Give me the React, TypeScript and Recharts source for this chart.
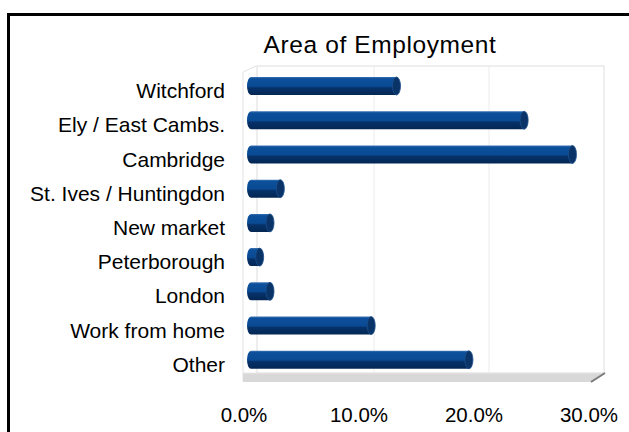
import { Bar, BarChart, Customized, XAxis, YAxis } from "recharts";

const categories = [
  "Witchford",
  "Ely / East Cambs.",
  "Cambridge",
  "St. Ives / Huntingdon",
  "New market",
  "Peterborough",
  "London",
  "Work from home",
  "Other",
];
const shares = [13.0, 24.1, 28.3, 2.9, 2.0, 1.1, 2.0, 10.8, 19.3];
const xTicks = [0, 10, 20, 30];

const FONT = '"Liberation Sans", Arial, sans-serif';

// chart frame (plot area is left 246..591, top 74..382)
const W = 629;
const H = 432;
const PLOT_LEFT = 246;
const PLOT_RIGHT = 591;
const DEPTH_X = 13;
const DEPTH_Y = 8;
const FLOOR_Y = 381;

const data = categories.map((name, i) => ({ name, value: shares[i] }));

function Wall() {
  const px = (v: number) => PLOT_LEFT + ((PLOT_RIGHT - PLOT_LEFT) * v) / 30;
  const backTop = 66;
  const backBottom = FLOOR_Y - DEPTH_Y;
  return (
    <g>
      <defs>
        <linearGradient id="cyl" x1="0" y1="0" x2="0" y2="1">
          <stop offset="0%" stopColor="#3d72b3" />
          <stop offset="10%" stopColor="#0c4f9b" />
          <stop offset="52%" stopColor="#0a4a93" />
          <stop offset="60%" stopColor="#06326a" />
          <stop offset="100%" stopColor="#042753" />
        </linearGradient>
      </defs>
      <text x={380} y={53} textAnchor="middle" fontFamily={FONT} fontSize={24.5} letterSpacing={0.6} fill="#000">
        Area of Employment
      </text>
      {/* side + back wall */}
      <polyline
        points={`${PLOT_LEFT - 3},${FLOOR_Y} ${PLOT_LEFT - 3},${backTop + 6} ${PLOT_LEFT - 3 + DEPTH_X},${backTop}`}
        fill="none"
        stroke="#e2e2e2"
      />
      <rect
        x={PLOT_LEFT + DEPTH_X - 2}
        y={backTop}
        width={PLOT_RIGHT - PLOT_LEFT + 2}
        height={backBottom - backTop}
        fill="#fff"
        stroke="#dedede"
      />
      {xTicks.slice(1, -1).map((t) => (
        <line key={t} x1={px(t) + DEPTH_X} x2={px(t) + DEPTH_X} y1={backTop} y2={backBottom} stroke="#ececec" />
      ))}
      {/* floor */}
      <polygon
        points={`${PLOT_LEFT - 3},${backBottom} ${PLOT_RIGHT + DEPTH_X + 1},${backBottom} ${PLOT_RIGHT},${FLOOR_Y + 1} ${PLOT_LEFT - 3},${FLOOR_Y + 1}`}
        fill="#d8d8d8"
      />
      <line x1={PLOT_LEFT - 3} x2={PLOT_RIGHT + DEPTH_X} y1={backBottom} y2={backBottom} stroke="#e8e8e8" />
      <line x1={PLOT_RIGHT} y1={FLOOR_Y + 1} x2={PLOT_RIGHT + DEPTH_X + 1} y2={backBottom} stroke="#7a7a7a" strokeWidth={2} />
    </g>
  );
}

function Cylinder(props: any) {
  const { x, y, width, height } = props;
  if (width == null || width <= 0) return null;
  const top = y - 5;
  const x0 = x + 1;
  const rx = 4;
  const ry = height / 2;
  const cy = top + ry;
  return (
    <g>
      <path
        d={`M${x0 + rx},${top} L${x0 + width},${top} L${x0 + width},${top + height} L${x0 + rx},${top + height} A${rx},${ry} 0 0 1 ${x0 + rx},${top} Z`}
        fill="url(#cyl)"
      />
      <ellipse cx={x0 + width} cy={cy} rx={rx} ry={ry} fill="#0a3468" stroke="#1d4f8c" strokeWidth={0.8} />
    </g>
  );
}

function YTick({ x, y, payload }: any) {
  return (
    <text x={x - 21} y={y + 7} textAnchor="end" fontFamily={FONT} fontSize={21} fill="#000">
      {payload.value}
    </text>
  );
}

function XTick({ x, y, payload }: any) {
  return (
    <text x={x - 2} y={y + 40} textAnchor="middle" fontFamily={FONT} fontSize={20.5} fill="#000">
      {`${Number(payload.value).toFixed(1)}%`}
    </text>
  );
}

export default function App() {
  return (
    <div style={{ position: "absolute", left: 0, top: 0, width: W, height: H, overflow: "hidden", background: "#fff" }}>
      <div
        style={{
          position: "absolute",
          left: 7,
          top: 13,
          width: 700,
          height: 500,
          border: "3px solid #000",
        }}
      />
      <div style={{ position: "absolute", left: 0, top: 0 }}>
        <BarChart
          width={W}
          height={H}
          data={data}
          layout="vertical"
          margin={{ top: 74, right: W - PLOT_RIGHT, bottom: 0, left: 10 }}
          barSize={18}
        >
          <Customized component={Wall} />
          <XAxis
            type="number"
            domain={[0, 30]}
            ticks={xTicks}
            height={50}
            axisLine={false}
            tickLine={false}
            tickSize={0}
            tickMargin={0}
            tick={<XTick />}
            interval={0}
          />
          <YAxis
            type="category"
            dataKey="name"
            width={236}
            axisLine={false}
            tickLine={false}
            tickSize={0}
            tickMargin={0}
            tick={<YTick />}
            interval={0}
          />
          <Bar dataKey="value" shape={<Cylinder />} isAnimationActive={false} />
        </BarChart>
      </div>
    </div>
  );
}
